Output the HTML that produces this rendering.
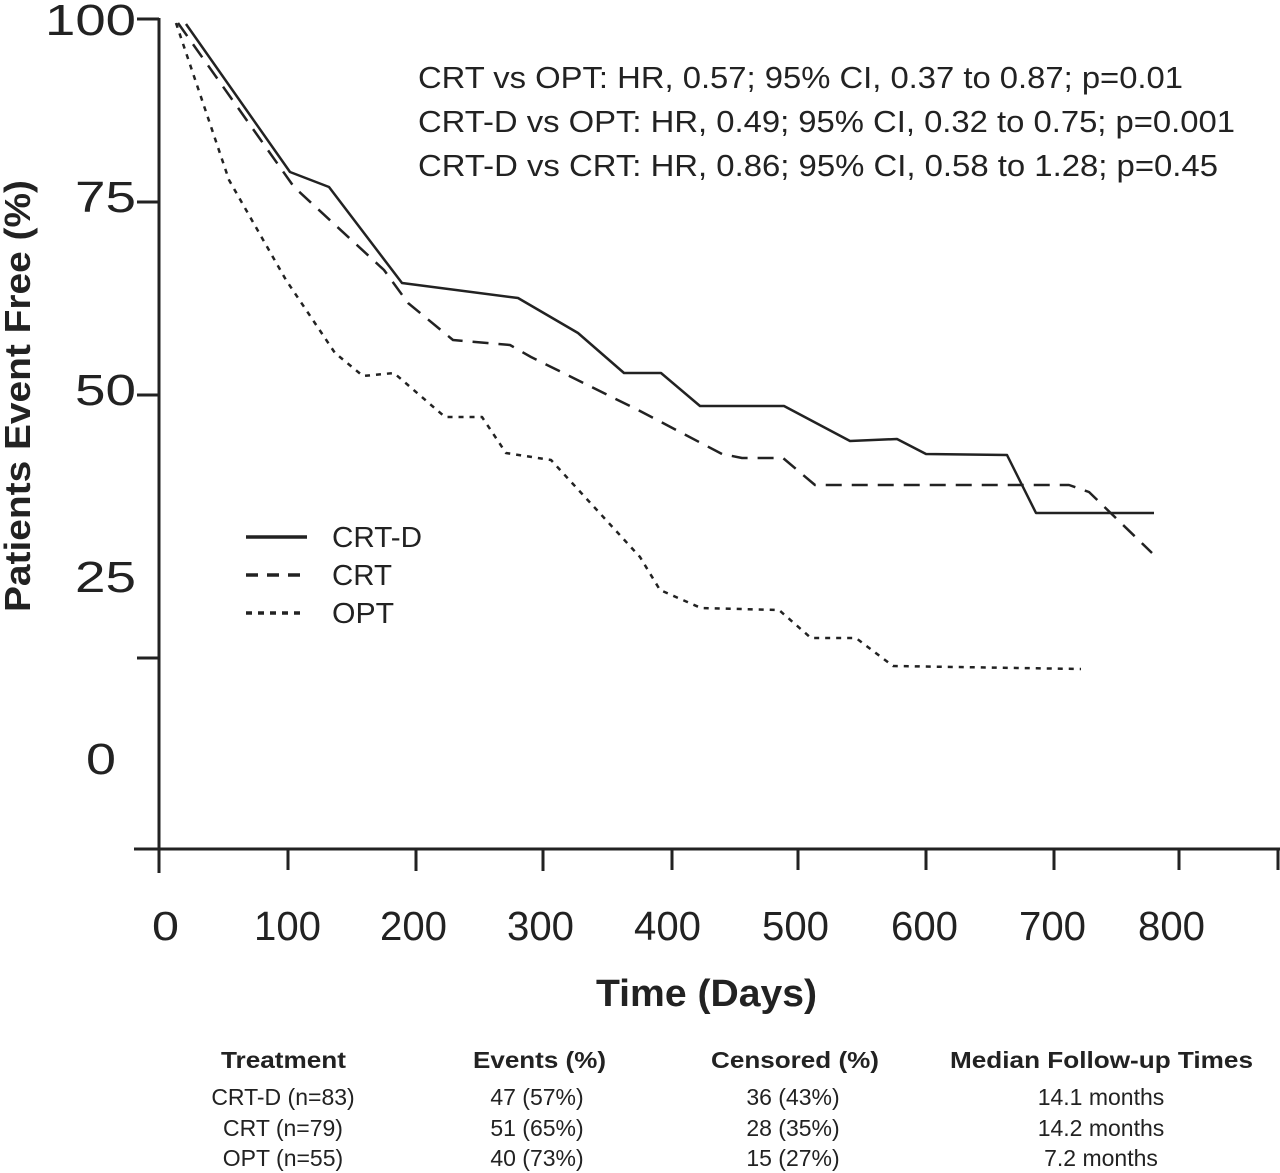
<!DOCTYPE html>
<html><head><meta charset="utf-8"><style>
html,body{margin:0;padding:0;background:#fff;}
svg{display:block;}
text{font-family:"Liberation Sans",Arial,sans-serif;fill:#222;}
</style></head><body>
<svg width="1280" height="1173" viewBox="0 0 1280 1173" xmlns="http://www.w3.org/2000/svg">
<g stroke="#222" stroke-width="3" fill="none">
<line x1="159" y1="18" x2="159" y2="850"/>
<line x1="134" y1="849" x2="1280" y2="849"/>
<line x1="137" y1="19" x2="159" y2="19"/>
<line x1="137" y1="202" x2="159" y2="202"/>
<line x1="137" y1="395" x2="159" y2="395"/>
<line x1="137" y1="658" x2="159" y2="658"/>
<line x1="159" y1="849" x2="159" y2="873"/>
<line x1="288" y1="849" x2="288" y2="870"/>
<line x1="416" y1="849" x2="416" y2="871"/>
<line x1="543" y1="849" x2="543" y2="871"/>
<line x1="672" y1="849" x2="672" y2="870"/>
<line x1="798" y1="849" x2="798" y2="870"/>
<line x1="926" y1="849" x2="926" y2="870"/>
<line x1="1054" y1="849" x2="1054" y2="870"/>
<line x1="1179" y1="849" x2="1179" y2="870"/>
<line x1="1278" y1="849" x2="1278" y2="870"/>
</g>
<g fill="none" stroke="#222" stroke-width="2.5" stroke-linejoin="round">
<polyline points="186,24 290,172 329,187 402,283 518,298 578,333 624,373 661,373 700,406 784,406 850,441 897,439 926,454 1007,455 1036,513 1154,513"/>
<polyline stroke-dasharray="16,10" points="178,23 294,187 384,270 408,303 453,340 510,345 531,357 640,411 722,454 742,458 783,458 815,485 1069,485 1089,492 1152,553"/>
<polyline stroke-dasharray="5,6" points="176,23 229,180 286,280 335,353 363,376 394,373 445,417 482,417 506,453 551,460 640,557 660,590 701,608 779,610 811,638 856,638 893,666 1081,669"/>
<line x1="246" y1="537" x2="307" y2="537" stroke-width="3.5"/>
<line x1="246" y1="575" x2="307" y2="575" stroke-width="3.5" stroke-dasharray="12,9"/>
<line x1="246" y1="613" x2="301" y2="613" stroke-width="3.5" stroke-dasharray="6,6"/>
</g>
<g font-size="44">
<text x="45" y="35" textLength="91" lengthAdjust="spacingAndGlyphs">100</text>
<text x="75" y="212" textLength="61" lengthAdjust="spacingAndGlyphs">75</text>
<text x="75" y="405" textLength="61" lengthAdjust="spacingAndGlyphs">50</text>
<text x="75" y="592" textLength="61" lengthAdjust="spacingAndGlyphs">25</text>
<text x="86" y="774" textLength="30" lengthAdjust="spacingAndGlyphs">0</text>
</g>
<g font-size="41">
<text x="152" y="940" textLength="27" lengthAdjust="spacingAndGlyphs">0</text>
<text x="254" y="940" textLength="67" lengthAdjust="spacingAndGlyphs">100</text>
<text x="380" y="940" textLength="67" lengthAdjust="spacingAndGlyphs">200</text>
<text x="507" y="940" textLength="67" lengthAdjust="spacingAndGlyphs">300</text>
<text x="634" y="940" textLength="67" lengthAdjust="spacingAndGlyphs">400</text>
<text x="762" y="940" textLength="67" lengthAdjust="spacingAndGlyphs">500</text>
<text x="891" y="940" textLength="67" lengthAdjust="spacingAndGlyphs">600</text>
<text x="1019" y="940" textLength="67" lengthAdjust="spacingAndGlyphs">700</text>
<text x="1138" y="940" textLength="67" lengthAdjust="spacingAndGlyphs">800</text>
</g>
<text x="596" y="1006" font-size="38" font-weight="bold" textLength="221" lengthAdjust="spacingAndGlyphs">Time (Days)</text>
<text transform="translate(30,612) rotate(-90)" font-size="36" font-weight="bold" textLength="432" lengthAdjust="spacingAndGlyphs">Patients Event Free (%)</text>
<g font-size="31">
<text x="418" y="88" textLength="765" lengthAdjust="spacingAndGlyphs">CRT vs OPT: HR, 0.57; 95% CI, 0.37 to 0.87; p=0.01</text>
<text x="418" y="132" textLength="817" lengthAdjust="spacingAndGlyphs">CRT-D vs OPT: HR, 0.49; 95% CI, 0.32 to 0.75; p=0.001</text>
<text x="418" y="176" textLength="800" lengthAdjust="spacingAndGlyphs">CRT-D vs CRT: HR, 0.86; 95% CI, 0.58 to 1.28; p=0.45</text>
</g>
<g font-size="29">
<text x="332" y="547" textLength="90" lengthAdjust="spacingAndGlyphs">CRT-D</text>
<text x="332" y="585" textLength="60" lengthAdjust="spacingAndGlyphs">CRT</text>
<text x="332" y="623" textLength="62" lengthAdjust="spacingAndGlyphs">OPT</text>
</g>
<g font-size="23" font-weight="bold">
<text x="221" y="1068" textLength="125" lengthAdjust="spacingAndGlyphs">Treatment</text>
<text x="473" y="1068" textLength="133" lengthAdjust="spacingAndGlyphs">Events (%)</text>
<text x="711" y="1068" textLength="168" lengthAdjust="spacingAndGlyphs">Censored (%)</text>
<text x="950" y="1068" textLength="303" lengthAdjust="spacingAndGlyphs">Median Follow-up Times</text>
</g>
<g font-size="23" text-anchor="middle">
<text x="283" y="1105">CRT-D (n=83)</text>
<text x="537" y="1105">47 (57%)</text>
<text x="793" y="1105">36 (43%)</text>
<text x="1101" y="1105">14.1 months</text>
<text x="283" y="1136">CRT (n=79)</text>
<text x="537" y="1136">51 (65%)</text>
<text x="793" y="1136">28 (35%)</text>
<text x="1101" y="1136">14.2 months</text>
<text x="283" y="1166">OPT (n=55)</text>
<text x="537" y="1166">40 (73%)</text>
<text x="793" y="1166">15 (27%)</text>
<text x="1101" y="1166">7.2 months</text>
</g>
</svg>
</body></html>
